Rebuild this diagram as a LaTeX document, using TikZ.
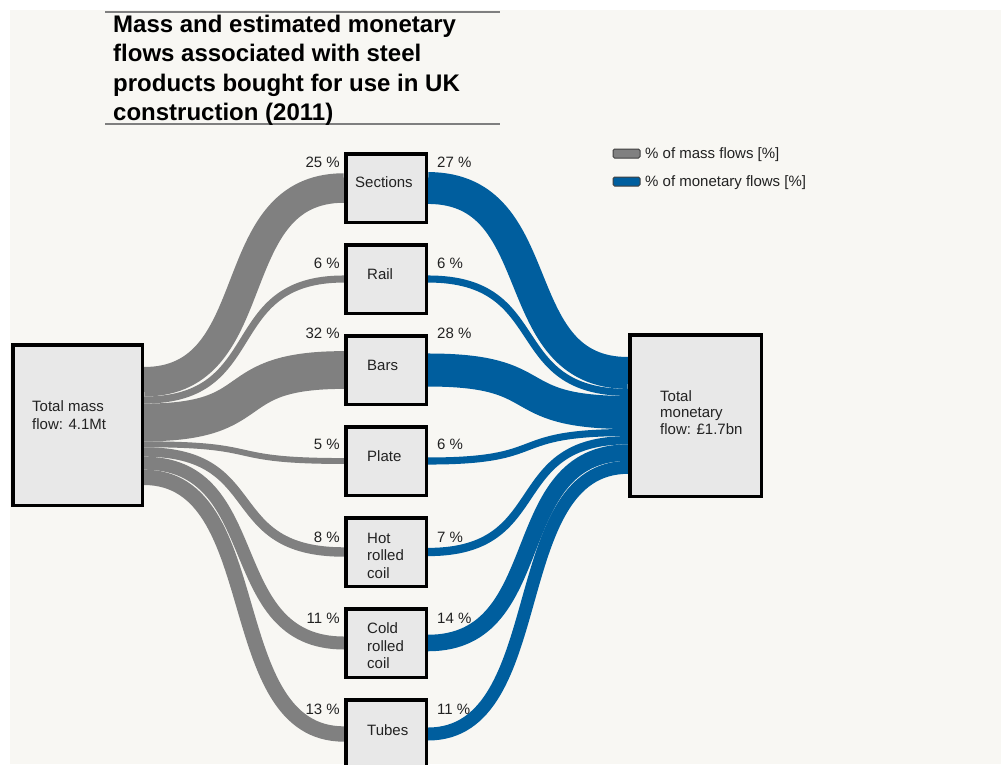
\documentclass[tikz,border=0pt]{standalone}
\usepackage{fontspec}
\setmainfont{Liberation Sans}
\usetikzlibrary{calc}
\definecolor{bgc}{HTML}{F8F7F3}
\definecolor{massc}{HTML}{808080}
\definecolor{monc}{HTML}{005E9E}
\definecolor{boxc}{HTML}{E8E8E8}
\definecolor{txt}{HTML}{222222}
\definecolor{rulec}{HTML}{7F7F7F}
\pgfdeclarelayer{bg}
\pgfdeclarelayer{flows}
\pgfsetlayers{bg,flows,main}
\begin{document}
\begin{tikzpicture}[x=1pt,y=-1pt,
  box/.style={draw=black, line width=3.5pt, fill=boxc, inner sep=0pt},
  prod/.style={box, minimum width=80.5pt, minimum height=68.5pt},
  mflow/.style={draw=massc, line cap=butt},
  vflow/.style={draw=monc, line cap=butt},
  pct/.style={font=\fontsize{15}{17}\selectfont, text=txt, inner sep=0pt},
  lbl/.style={font=\fontsize{15}{17.5}\selectfont, text=txt, inner sep=0pt, align=left},
  swatch/.style={draw=black!75, line width=1pt, rounded corners=1.5pt},
]
\useasboundingbox (0,0) rectangle (1001,764);
\clip (0,0) rectangle (1001,764);
\begin{pgfonlayer}{bg}
\fill[white] (0,0) rectangle (1001,764);
\fill[bgc] (10,10) rectangle (1001,764);
\end{pgfonlayer}

% boxes
\node[box, minimum width=129.5pt, minimum height=160.5pt] (L) at (77.5,425) {};
\node[box, minimum width=131.5pt, minimum height=161.5pt] (R) at (695.5,415.5) {};
\node[prod] (S)  at (386,188) {};
\node[prod] (Ra) at (386,279) {};
\node[prod] (B)  at (386,370) {};
\node[prod] (P)  at (386,461) {};
\node[prod] (H)  at (386,552) {};
\node[prod] (C)  at (386,643) {};
\node[prod] (T)  at (386,734) {};

% flows
\begin{pgfonlayer}{flows}
\draw[mflow, line width=29.5pt]  ([yshift=43.25pt]L.east) .. controls +(125,0) and +(-125,0) .. (S.west);
\draw[mflow, line width=7.08pt]  ([yshift=24.96pt]L.east) .. controls +(125,0) and +(-125,0) .. (Ra.west);
\draw[mflow, line width=37.76pt] ([yshift=2.54pt]L.east) .. controls +(125,0) and +(-125,0) .. (B.west);
\draw[mflow, line width=5.9pt]   ([yshift=-19.29pt]L.east) .. controls +(125,0) and +(-125,0) .. (P.west);
\draw[mflow, line width=9.44pt]  ([yshift=-26.96pt]L.east) .. controls +(125,0) and +(-125,0) .. (H.west);
\draw[mflow, line width=12.98pt] ([yshift=-38.17pt]L.east) .. controls +(125,0) and +(-125,0) .. (C.west);
\draw[mflow, line width=15.34pt] ([yshift=-52.33pt]L.east) .. controls +(125,0) and +(-125,0) .. (T.west);

\draw[vflow, line width=31.86pt] (S.east)  .. controls +(125,0) and +(-125,0) .. ([yshift=42.57pt]R.west);
\draw[vflow, line width=7.08pt]  (Ra.east) .. controls +(125,0) and +(-125,0) .. ([yshift=23.1pt]R.west);
\draw[vflow, line width=33.04pt] (B.east)  .. controls +(125,0) and +(-125,0) .. ([yshift=3.04pt]R.west);
\draw[vflow, line width=7.08pt]  (P.east)  .. controls +(125,0) and +(-125,0) .. ([yshift=-17.02pt]R.west);
\draw[vflow, line width=8.26pt]  (H.east)  .. controls +(125,0) and +(-125,0) .. ([yshift=-24.69pt]R.west);
\draw[vflow, line width=16.52pt] (C.east)  .. controls +(125,0) and +(-125,0) .. ([yshift=-37.08pt]R.west);
\draw[vflow, line width=12.98pt] (T.east)  .. controls +(125,0) and +(-125,0) .. ([yshift=-51.83pt]R.west);
\end{pgfonlayer}

% box texts
\node[lbl, anchor=west] (Lt) at (32,415) {Total mass\\flow: 4.1Mt};
\node[lbl, anchor=west, font=\fontsize{15}{16.5}\selectfont] (Rt) at (660,412.5) {Total\\monetary\\flow: £1.7bn};
\node[lbl, anchor=west] (St) at (355,182) {Sections};
\node[lbl, anchor=west] (Rat) at (367,274) {Rail};
\node[lbl, anchor=west] (Bt) at (367,365) {Bars};
\node[lbl, anchor=west] (Pt) at (367,456) {Plate};
\node[lbl, anchor=west] (Ht) at (367,555.5) {Hot\\rolled\\coil};
\node[lbl, anchor=west] (Ct) at (367,646) {Cold\\rolled\\coil};
\node[lbl, anchor=west] (Tt) at (367,730) {Tubes};

% percentage labels
\node[pct, anchor=east] (m1) at (340,162) {25 \%};
\node[pct, anchor=east] (m2) at (340,263) {6 \%};
\node[pct, anchor=east] (m3) at (340,333) {32 \%};
\node[pct, anchor=east] (m4) at (340,444) {5 \%};
\node[pct, anchor=east] (m5) at (340,537) {8 \%};
\node[pct, anchor=east] (m6) at (340,618) {11 \%};
\node[pct, anchor=east] (m7) at (340,709) {13 \%};
\node[pct, anchor=west] (v1) at (437,162) {27 \%};
\node[pct, anchor=west] (v2) at (437,263) {6 \%};
\node[pct, anchor=west] (v3) at (437,333) {28 \%};
\node[pct, anchor=west] (v4) at (437,444) {6 \%};
\node[pct, anchor=west] (v5) at (437,537) {7 \%};
\node[pct, anchor=west] (v6) at (437,618) {14 \%};
\node[pct, anchor=west] (v7) at (437,709) {11 \%};

% title
\draw[rulec, line width=2pt] (105,12) -- (500,12);
\draw[rulec, line width=2pt] (105,124) -- (500,124);
\node[anchor=north west, inner sep=0pt, align=left, font=\bfseries\fontsize{24}{29.3}\selectfont] (title) at (113,15)
  {Mass and estimated monetary\\flows associated with steel\\products bought for use in UK\\construction (2011)};

% legend
\draw[swatch, fill=massc] (613,149) rectangle (640,158);
\node[pct, anchor=west] (lg1) at (645,155) {\% of mass flows [\%]};
\draw[swatch, fill=monc] (613,177) rectangle (640,186);
\node[pct, anchor=west] (lg2) at (645,183) {\% of monetary flows [\%]};
\end{tikzpicture}
\end{document}
